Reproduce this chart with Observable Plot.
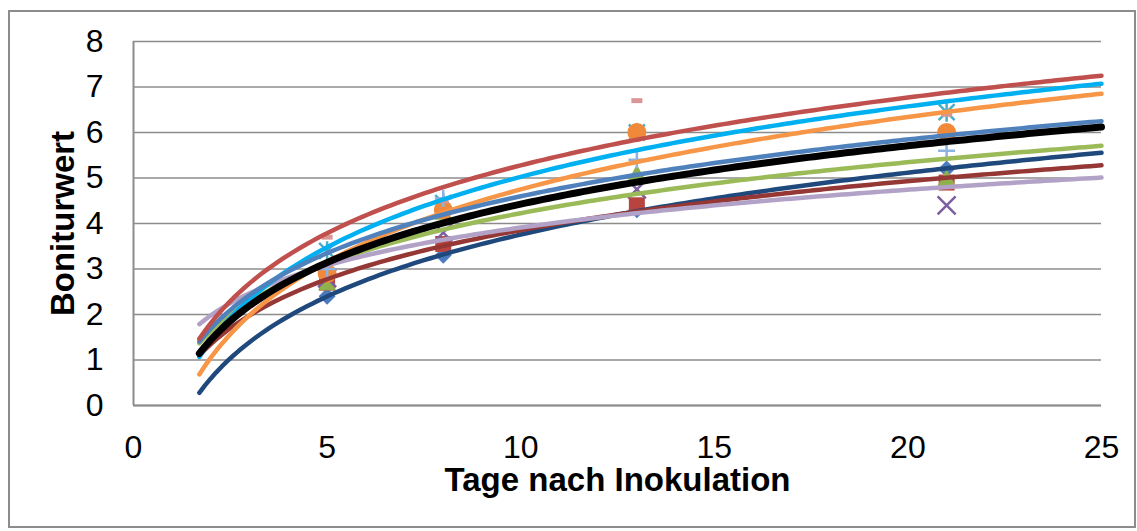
<!DOCTYPE html>
<html>
<head>
<meta charset="utf-8">
<script src="https://cdn.jsdelivr.net/npm/d3@7"></script>
<script src="https://cdn.jsdelivr.net/npm/@observablehq/plot@0.6"></script>
<style>
  body { margin: 0; background: #fff; }
  #chart { position: relative; width: 1137px; height: 531px; background: #fff; }
  #chart svg { position: absolute; left: 0; top: 0; }
  #frame { position: absolute; left: 8px; top: 10px; width: 1124px; height: 514px;
           border: 2px solid #8c8c8c; pointer-events: none; }
</style>
</head>
<body>
<div id="chart"><div id="frame"></div></div>
<script>
// Rating days and the rating per variant on each day
const days = [5, 8, 13, 21];
const diamondVals  = [2.4, 3.3, 4.3, 5.2];
const squareVals   = [2.7, 3.55, 4.4, 4.9];
const triangleVals = [2.7, 4.25, 5.1, 5.0];
const timesVals    = [2.8, 3.8, 4.75, 4.4];
const starVals     = [3.4, 4.45, 6.0, 6.45];
const circleVals   = [2.9, 4.3, 6.0, 6.0];
const plusVals     = [3.0, 4.55, 5.4, 5.6];
const dashVals     = [3.7, 4.5, 6.7, 6.4];

// Axis ticks and titles
const xTicks = [0, 5, 10, 15, 20, 25];
const yTicks = [0, 1, 2, 3, 4, 5, 6, 7, 8];
const xTitle = "Tage nach Inokulation";
const yTitle = "Boniturwert";

// Range covered by the logarithmic trend lines
const trendFrom = 1.7;
const trendTo = 25;

// Marker shapes (size is the symbol area; r = sqrt(size / PI))
const rOf = size => Math.sqrt(size / Math.PI);
const shapes = {
  diamond: { draw(c, size) { const s = rOf(size); c.moveTo(0, -s); c.lineTo(s, 0); c.lineTo(0, s); c.lineTo(-s, 0); c.closePath(); } },
  square:  { draw(c, size) { const s = rOf(size); c.rect(-s, -s, 2 * s, 2 * s); } },
  triangle:{ draw(c, size) { const s = rOf(size); c.moveTo(0, -s); c.lineTo(s, s * 0.85); c.lineTo(-s, s * 0.85); c.closePath(); } },
  times:   { draw(c, size) { const s = rOf(size); c.moveTo(-s, -s); c.lineTo(s, s); c.moveTo(-s, s); c.lineTo(s, -s); } },
  star:    { draw(c, size) { const s = rOf(size); c.moveTo(-s, -s); c.lineTo(s, s); c.moveTo(-s, s); c.lineTo(s, -s); c.moveTo(0, -s * 1.2); c.lineTo(0, s * 1.2); } },
  circle:  { draw(c, size) { const s = rOf(size); c.moveTo(s, 0); c.arc(0, 0, s, 0, 2 * Math.PI); } },
  plus:    { draw(c, size) { const s = rOf(size); c.moveTo(-s, 0); c.lineTo(s, 0); c.moveTo(0, -s); c.lineTo(0, s); } },
  dash:    { draw(c, size) { const s = rOf(size); c.rect(-s, -s * 0.45, 2 * s, s * 0.9); } }
};

const series = [
  { key: "diamond",  values: diamondVals,  marker: "#4A7BBE", line: "#1F497D", r: 8.5, filled: true },
  { key: "square",   values: squareVals,   marker: "#B8443F", line: "#953735", r: 8,   filled: true },
  { key: "triangle", values: triangleVals, marker: "#8FB04A", line: "#9BBB59", r: 9,   filled: true },
  { key: "times",    values: timesVals,    marker: "#7B5FA0", line: "#B3A2C7", r: 9,   filled: false },
  { key: "star",     values: starVals,     marker: "#4BACC6", line: "#00B0F0", r: 8,   filled: false },
  { key: "circle",   values: circleVals,   marker: "#F08A3A", line: "#F79646", r: 9.5, filled: true },
  { key: "plus",     values: plusVals,     marker: "#8DB3E2", line: "#4F81BD", r: 8.5, filled: false },
  { key: "dash",     values: dashVals,     marker: "#D99694", line: "#C0504D", r: 5.5, filled: true }
];

// Least-squares fit of y = a + b * ln(x)
function logFit(xs, ys) {
  const lx = xs.map(Math.log);
  const mx = d3.mean(lx), my = d3.mean(ys);
  const sxy = d3.sum(lx, (v, i) => (v - mx) * (ys[i] - my));
  const sxx = d3.sum(lx, v => (v - mx) ** 2);
  const b = sxy / sxx;
  return { a: my - b * mx, b };
}
const trendX = d3.range(0, 161).map(i => trendFrom + (trendTo - trendFrom) * i / 160);
const trendCurve = (fit, key) => trendX.map(x => ({ key, x, y: fit.a + fit.b * Math.log(x) }));

const points = series.flatMap(s => s.values.map((v, i) => ({ key: s.key, day: days[i], value: v })));
const meanVals = days.map((d, i) => d3.mean(series, s => s.values[i]));

const markerMarks = series.map(s => Plot.dot(points.filter(p => p.key === s.key), {
  x: "day", y: "value", r: s.r, symbol: shapes[s.key],
  fill: s.filled ? s.marker : "none",
  stroke: s.marker, strokeWidth: s.filled ? 0 : 2.5
}));

const trendMarks = series.map(s => Plot.line(trendCurve(logFit(days, s.values), s.key), {
  x: "x", y: "y", stroke: s.line, strokeWidth: 4.5, strokeLinecap: "round"
}));

const meanMark = Plot.line(trendCurve(logFit(days, meanVals), "mean"), {
  x: "x", y: "y", stroke: "#000", strokeWidth: 7, strokeLinecap: "round"
});

const chart = Plot.plot({
  width: 1137,
  height: 531,
  marginLeft: 133,
  marginRight: 36,
  marginTop: 41,
  marginBottom: 126,
  x: { domain: [0, 25] },
  y: { domain: [0, 8] },
  style: { fontFamily: "'Liberation Sans', Arial, sans-serif", fontSize: "32px", color: "#000", background: "transparent", overflow: "visible" },
  marks: [
    Plot.gridY(yTicks, { stroke: "#8c8c8c", strokeOpacity: 1, strokeWidth: 1.6 }),
    Plot.ruleX([0], { stroke: "#8c8c8c", strokeWidth: 2 }),
    Plot.ruleY([0], { stroke: "#8c8c8c", strokeWidth: 2 }),
    ...markerMarks,
    ...trendMarks,
    meanMark,
    Plot.axisX(xTicks, { tickSize: 0, tickPadding: 30, label: null, fontSize: 32, fill: "#000" }),
    Plot.axisY(yTicks, { tickSize: 0, tickPadding: 30, label: null, fontSize: 32, fill: "#000" }),
    Plot.text([xTitle], { text: d => d, frameAnchor: "bottom", dy: 75, fontSize: 33, fontWeight: "bold", textAnchor: "middle", lineAnchor: "middle", fill: "#000" }),
    Plot.text([yTitle], { text: d => d, frameAnchor: "left", dx: -70, rotate: -90, fontSize: 33, fontWeight: "bold", textAnchor: "middle", lineAnchor: "middle", fill: "#000" })
  ]
});

document.getElementById("chart").prepend(chart);
</script>
</body>
</html>
